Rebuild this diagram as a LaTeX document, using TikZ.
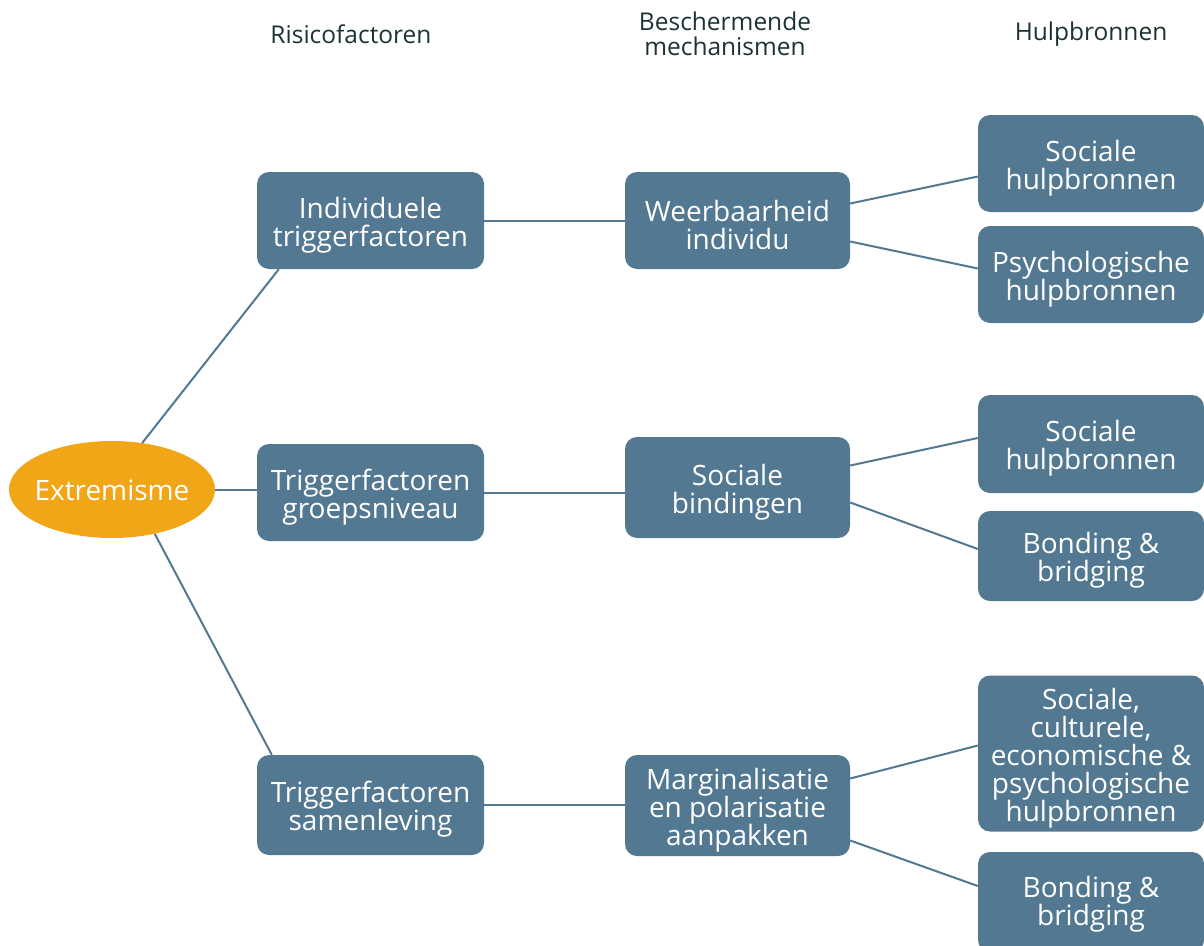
\documentclass[tikz,border=0pt]{standalone}
\usepackage{fontspec}
\setmainfont{Open Sans}
\usetikzlibrary{shapes.geometric}
\definecolor{boxblue}{HTML}{537891}
\definecolor{orangeE}{HTML}{F0A616}
\definecolor{headc}{HTML}{1C3333}
\tikzset{
  bx/.style={draw=none, fill=boxblue, rounded corners=12pt, inner sep=0pt},
  lb/.style={text=white, align=center, inner sep=0pt, yshift=-4.5pt,
    font=\fontsize{28}{28}\selectfont},
  c1/.style={bx, minimum width=227pt, minimum height=97pt},
  c2/.style={bx, minimum width=225pt, minimum height=100pt},
  c3/.style={bx, minimum width=226pt},
  hd/.style={text=headc, align=center, font=\fontsize{24.5}{25}\selectfont},
  ln/.style={draw=boxblue, line width=2pt}
}
\begin{document}
\begin{tikzpicture}[x=1pt,y=-1pt]
\useasboundingbox (0,0) rectangle (1204,945);
% headers
\node[hd] (h1) at (351,34) {Risicofactoren};
\node[hd] (h2) at (725,34) {Beschermende\\mechanismen};
\node[hd] (h3) at (1091,34) {Hulpbronnen};
% root
\node[ellipse, fill=orangeE, minimum width=206pt, minimum height=97pt, inner sep=0pt,
  label={[lb,yshift=4pt]center:{Extremisme}}] (e) at (112,489.5) {};
% column 1
\node[c1, label={[lb]center:{Individuele\\triggerfactoren}}] (a1) at (370.5,220.5) {};
\node[c1, label={[lb]center:{Triggerfactoren\\groepsniveau}}] (a2) at (370.5,492.5) {};
\node[c1, minimum height=100pt, label={[lb]center:{Triggerfactoren\\samenleving}}] (a3) at (370.5,805) {};
% column 2
\node[c2, minimum height=97pt, label={[lb]center:{Weerbaarheid\\individu}}] (b1) at (737.5,220.5) {};
\node[c2, minimum height=101pt, label={[lb]center:{Sociale\\bindingen}}] (b2) at (737.5,487.5) {};
\node[c2, minimum height=101pt, label={[lb]center:{Marginalisatie\\en polarisatie\\aanpakken}}] (b3) at (737.5,805.5) {};
% column 3
\node[c3, minimum height=97pt, label={[lb]center:{Sociale\\hulpbronnen}}] (d1) at (1091,163.5) {};
\node[c3, minimum height=97pt, label={[lb]center:{Psychologische\\hulpbronnen}}] (d2) at (1091,274.5) {};
\node[c3, minimum height=98pt, label={[lb]center:{Sociale\\hulpbronnen}}] (d3) at (1091,444) {};
\node[c3, minimum height=90pt, label={[lb]center:{Bonding \&\\bridging}}] (d4) at (1091,556) {};
\node[c3, minimum height=156pt, label={[lb]center:{Sociale,\\culturele,\\economische \&\\psychologische\\hulpbronnen}}] (d5) at (1091,753.5) {};
\node[c3, minimum height=100pt, label={[lb,yshift=2pt]center:{Bonding \&\\bridging}}] (d6) at (1091,902) {};
% connectors root
\draw[ln] (e.57) -- ([xshift=22pt]a1.south west);
\draw[ln] (e.east) -- (a2.west |- e.east);
\draw[ln] (e.-46) -- ([xshift=15pt]a3.north west);
% column 1 to 2
\draw[ln] (a1.east) -- (b1.west);
\draw[ln] (a2.east) -- (a2.east -| b2.west);
\draw[ln] (a3.east) -- (a3.east -| b3.west);
% column 2 to 3
\draw[ln] ([yshift=17pt]b1.east) -- ([yshift=-13pt]d1.west);
\draw[ln] ([yshift=-21pt]b1.east) -- ([yshift=6pt]d2.west);
\draw[ln] ([yshift=22pt]b2.east) -- ([yshift=6pt]d3.west);
\draw[ln] ([yshift=-15pt]b2.east) -- ([yshift=7pt]d4.west);
\draw[ln] ([yshift=27pt]b3.east) -- ([yshift=8pt]d5.west);
\draw[ln] ([yshift=-35pt]b3.east) -- ([yshift=16pt]d6.west);
\end{tikzpicture}
\end{document}
